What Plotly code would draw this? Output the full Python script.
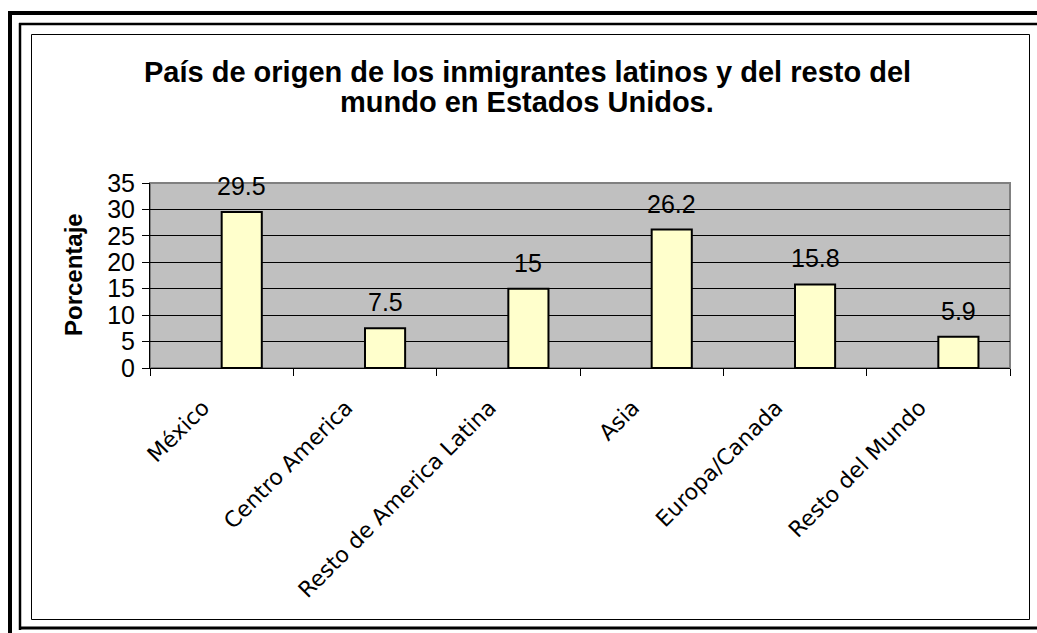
import plotly.graph_objects as go

categories = ["México", "Centro America", "Resto de America Latina", "Asia", "Europa/Canada", "Resto del Mundo"]
values = [29.5, 7.5, 15, 26.2, 15.8, 5.9]
value_labels = ["29.5", "7.5", "15", "26.2", "15.8", "5.9"]
y_ticks = [0, 5, 10, 15, 20, 25, 30, 35]
title_lines = ["País de origen de los inmigrantes latinos y del resto del", "mundo en Estados Unidos."]
y_title = "Porcentaje"

W, H = 1037, 633

def px(x):
    return x / W

def py(y):
    return 1 - y / H

idx = list(range(len(categories)))
BAR_W = 0.28

fig = go.Figure()
fig.add_trace(go.Bar(
    x=idx, y=values,
    width=BAR_W, offset=0,
    marker=dict(color="#FFFFCC", line=dict(color="black", width=2)),
    showlegend=False, hoverinfo="skip",
))

for i, v, t in zip(idx, values, value_labels):
    fig.add_annotation(x=i + BAR_W / 2, y=v, text=t, showarrow=False, xref="x", yref="y",
                       xanchor="center", yanchor="bottom", yshift=10,
                       font=dict(family="Liberation Sans, Arial", size=25, color="black"))

shapes = [
    dict(type="line", x0=px(10), x1=px(10), y0=py(11), y1=py(633), line=dict(color="black", width=4)),
    dict(type="line", x0=px(8), x1=px(1037), y0=py(13), y1=py(13), line=dict(color="black", width=4)),
    dict(type="line", x0=px(20), x1=px(20), y0=py(23), y1=py(630), line=dict(color="black", width=2.5)),
    dict(type="line", x0=px(19), x1=px(1037), y0=py(24), y1=py(24), line=dict(color="black", width=2.5)),
    dict(type="line", x0=px(19), x1=px(1037), y0=py(628), y1=py(628), line=dict(color="black", width=3)),
    dict(type="rect", x0=px(31.5), x1=px(1029.5), y0=py(34.5), y1=py(619.5), line=dict(color="black", width=1)),
]
for s in shapes:
    s["xref"] = "paper"; s["yref"] = "paper"
fig.update_layout(shapes=shapes)

for line_text, yc in zip(title_lines, [72, 102]):
    fig.add_annotation(x=px(527), y=py(yc), xref="paper", yref="paper", showarrow=False,
                       xanchor="center", yanchor="middle",
                       text="<b>" + line_text + "</b>",
                       font=dict(family="Liberation Sans, Arial", size=29, color="black"))

fig.add_annotation(x=px(73), y=py(275), xref="paper", yref="paper", showarrow=False,
                   xanchor="center", yanchor="middle", textangle=-90,
                   text="<b>" + y_title + "</b>",
                   font=dict(family="Liberation Sans, Arial", size=24, color="black"))

fig.update_layout(
    width=W, height=H,
    margin=dict(l=0, r=0, t=0, b=0),
    paper_bgcolor="white",
    plot_bgcolor="#C0C0C0",
    xaxis=dict(
        domain=[px(150), px(1010)],
        range=[-0.5, len(categories) - 0.5],
        tickmode="array",
        tickvals=[i - 0.13 for i in idx],
        ticktext=categories,
        ticks="",
        minor=dict(tickmode="array", tickvals=[i - 0.5 for i in idx] + [len(categories) - 0.5],
                   ticks="outside", ticklen=7, tickcolor="black", tickwidth=1, showgrid=False),
        showline=True, linecolor="black", linewidth=1,
        tickangle=-45,
        tickfont=dict(family="DejaVu Sans", size=22, color="black"),
        ticklabelstandoff=17,
        showgrid=False, zeroline=False,
        automargin=False,
    ),
    yaxis=dict(
        domain=[py(368), py(183)],
        range=[0, 35],
        tickvals=y_ticks,
        ticks="outside", ticklen=7, tickcolor="black", tickwidth=1,
        showline=True, linecolor="black", linewidth=1,
        showgrid=True, gridcolor="black", gridwidth=1,
        zeroline=False,
        tickfont=dict(family="Liberation Sans, Arial", size=25, color="black"),
        ticklabelstandoff=2,
        automargin=False,
    ),
)

fig.add_shape(type="rect", xref="x domain", yref="y domain", x0=0, x1=1, y0=0, y1=1,
              line=dict(color="#808080", width=2), layer="below")

fig.write_html("out.html")
